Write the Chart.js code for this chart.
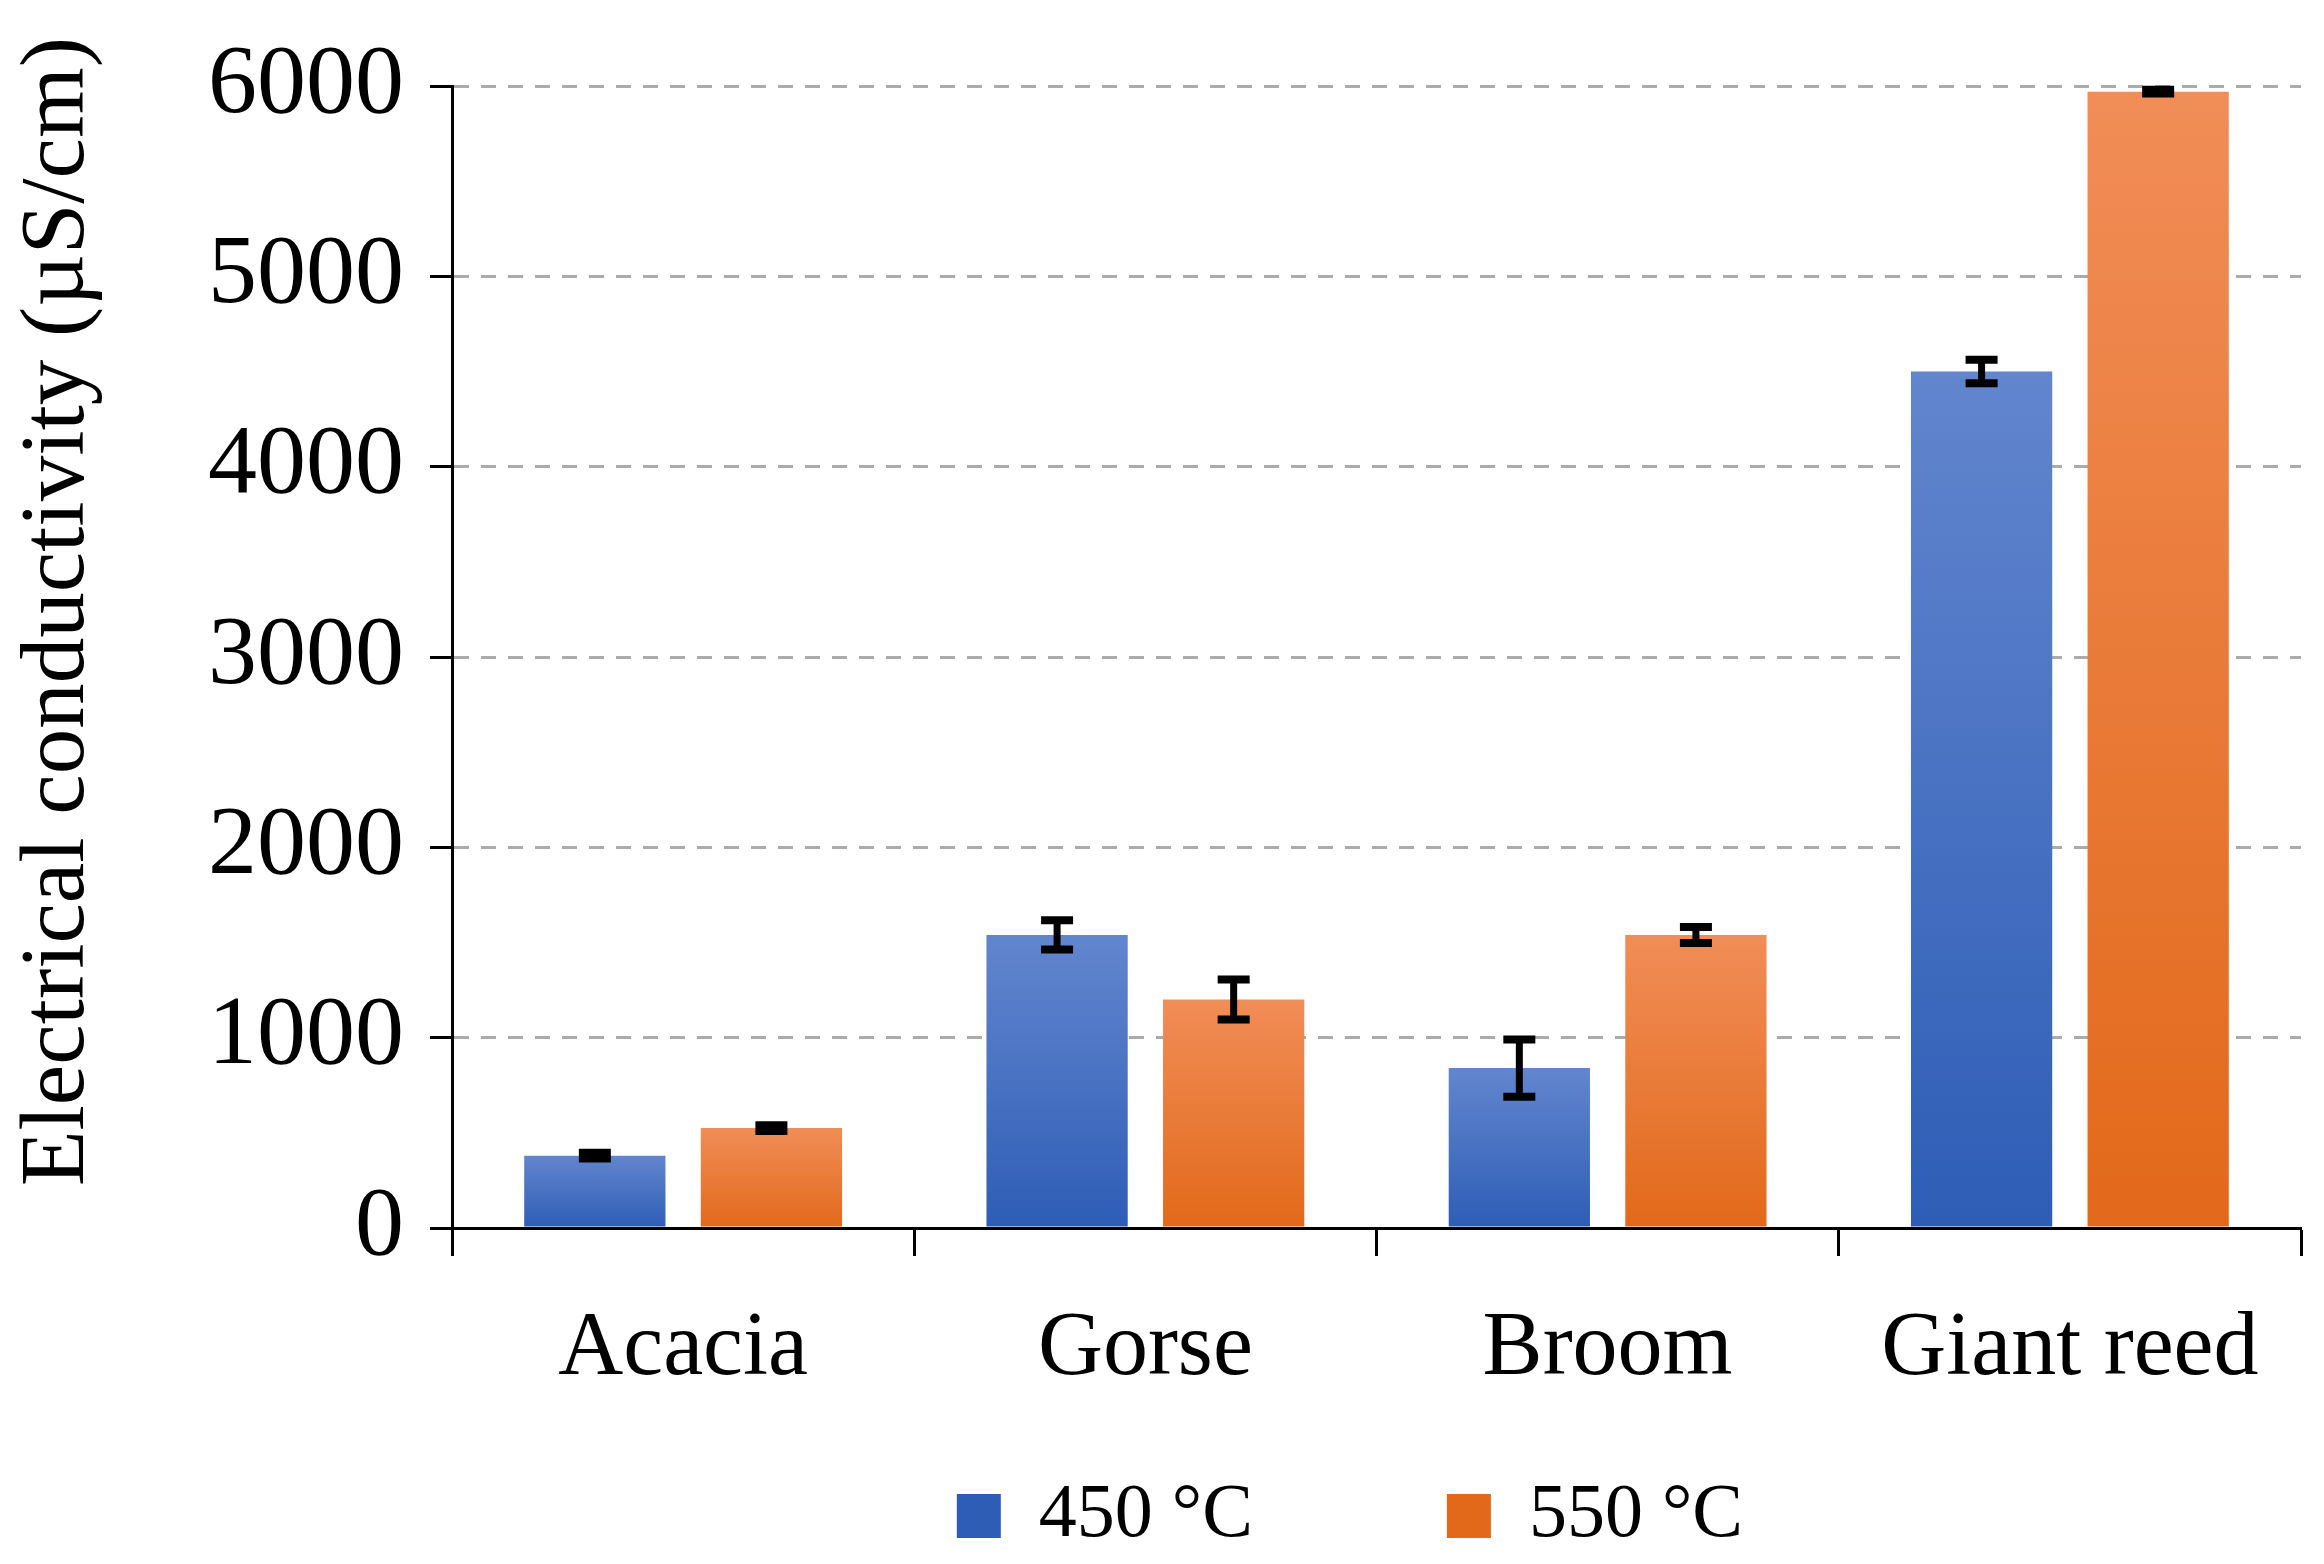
<!DOCTYPE html>
<html>
<head>
<meta charset="utf-8">
<script src="https://cdn.jsdelivr.net/npm/chart.js@4/dist/chart.umd.min.js"></script>
<style>
  html, body { margin: 0; padding: 0; background: #fff; }
  #wrap { width: 2324px; height: 1564px; }
</style>
</head>
<body>
<div id="wrap"><canvas id="ec-chart"></canvas></div>
<script>
const categories = ['Acacia', 'Gorse', 'Broom', 'Giant reed'];
const seriesLabels = ['450 °C', '550 °C'];
const values450 = [380, 1540, 840, 4500];
const values550 = [525, 1200, 1540, 5970];
const err450 = [15, 77, 150, 62];
const err550 = [15, 105, 42, 10];
const yTicks = [0, 1000, 2000, 3000, 4000, 5000, 6000];

const FONT = "'Liberation Serif', 'DejaVu Serif', serif";

// top / bottom colours of the office-style gradient
const blueStops = ['#6286ce', '#2e5db6'];
const orangeStops = ['#f18d57', '#e2691a'];

function barFill(stops) {
    return function(ctx) {
        const chart = ctx.chart;
        if (ctx.type !== 'data' || !chart.chartArea || !chart.scales.y) {
            return stops[1];
        }
        const y = chart.scales.y;
        const top = y.getPixelForValue(ctx.raw);
        const bottom = y.getPixelForValue(0);
        if (!isFinite(top) || top === bottom) return stops[1];
        const g = chart.ctx.createLinearGradient(0, top, 0, bottom);
        g.addColorStop(0, stops[0]);
        g.addColorStop(1, stops[1]);
        return g;
    };
}

// error bars drawn from each bar's own position on the scale
const errorBars = {
    id: 'errorBars',
    afterDatasetsDraw(chart) {
        const ctx = chart.ctx;
        const y = chart.scales.y;
        const errs = [err450, err550];
        ctx.save();
        ctx.strokeStyle = '#000';
        chart.data.datasets.forEach((ds, i) => {
            const meta = chart.getDatasetMeta(i);
            meta.data.forEach((bar, j) => {
                const v = ds.data[j];
                const e = errs[i][j];
                const hi = y.getPixelForValue(v + e);
                const lo = y.getPixelForValue(v - e);
                const half = 16;
                ctx.lineWidth = 7;
                ctx.beginPath();
                ctx.moveTo(bar.x, hi);
                ctx.lineTo(bar.x, lo);
                ctx.stroke();
                ctx.lineWidth = 8;
                ctx.beginPath();
                ctx.moveTo(bar.x - half, hi);
                ctx.lineTo(bar.x + half, hi);
                ctx.moveTo(bar.x - half, lo);
                ctx.lineTo(bar.x + half, lo);
                ctx.stroke();
            });
        });
        ctx.restore();
    }
};

new Chart(document.getElementById('ec-chart'), {
    type: 'bar',
    data: {
        labels: categories,
        datasets: [{
            label: seriesLabels[0],
            data: values450,
            backgroundColor: barFill(blueStops),
            categoryPercentage: 0.764,
            barPercentage: 0.8
        }, {
            label: seriesLabels[1],
            data: values550,
            backgroundColor: barFill(orangeStops),
            categoryPercentage: 0.764,
            barPercentage: 0.8
        }]
    },
    options: {
        responsive: true,
        maintainAspectRatio: false,
        devicePixelRatio: 1,
        animation: false,
        layout: {
            padding: { top: 86, right: 23, left: 4, bottom: 0 }
        },
        scales: {
            x: {
                grid: {
                    offset: true,
                    drawOnChartArea: false,
                    tickLength: 28,
                    tickColor: '#000',
                    tickWidth: 3
                },
                border: { display: true, color: '#000', width: 3 },
                ticks: {
                    color: '#000',
                    padding: 40,
                    font: { family: FONT, size: 90 }
                },
                afterFit: function(scale) { scale.height = 246; }
            },
            y: {
                min: 0,
                max: 6000,
                afterBuildTicks: function(scale) {
                    scale.ticks = yTicks.map(v => ({ value: v }));
                },
                grid: {
                    color: '#ababab',
                    lineWidth: 3,
                    tickColor: '#000',
                    tickWidth: 3,
                    tickLength: 22,
                    tickBorderDash: []
                },
                border: { display: true, color: '#000', width: 3, dash: [15, 12] },
                ticks: {
                    color: '#000',
                    padding: 26,
                    font: { family: FONT, size: 98 },
                    callback: function(value) { return String(value); }
                },
                title: {
                    display: true,
                    // leading space nudges the rotated title upward like the original
                    text: '\u2003Electrical conductivity (µS/cm)',
                    color: '#000',
                    padding: { top: 0, bottom: 0 },
                    font: { family: FONT, size: 91, weight: 'normal' }
                },
                afterFit: function(scale) { scale.width = 448; }
            }
        },
        plugins: {
            legend: {
                position: 'bottom',
                fullSize: false,
                labels: {
                    color: '#000',
                    boxWidth: 44,
                    boxHeight: 44,
                    padding: 4,
                    font: { family: FONT, size: 76 },
                    generateLabels: function(chart) {
                        const items = Chart.defaults.plugins.legend.labels.generateLabels(chart);
                        const solid = [blueStops, orangeStops];
                        items.forEach((it, i) => {
                            it.fillStyle = solid[i][1];
                            it.strokeStyle = solid[i][1];
                            it.lineWidth = 0;
                        });
                        // spacing between entries and a slight shift to the left
                        items[0].text = items[0].text + '\u2003\u2003\u2002';
                        items[1].text = items[1].text + '\u2002\u2009';
                        return items;
                    }
                }
            },
            tooltip: { enabled: false }
        }
    },
    plugins: [errorBars]
});
</script>
</body>
</html>
